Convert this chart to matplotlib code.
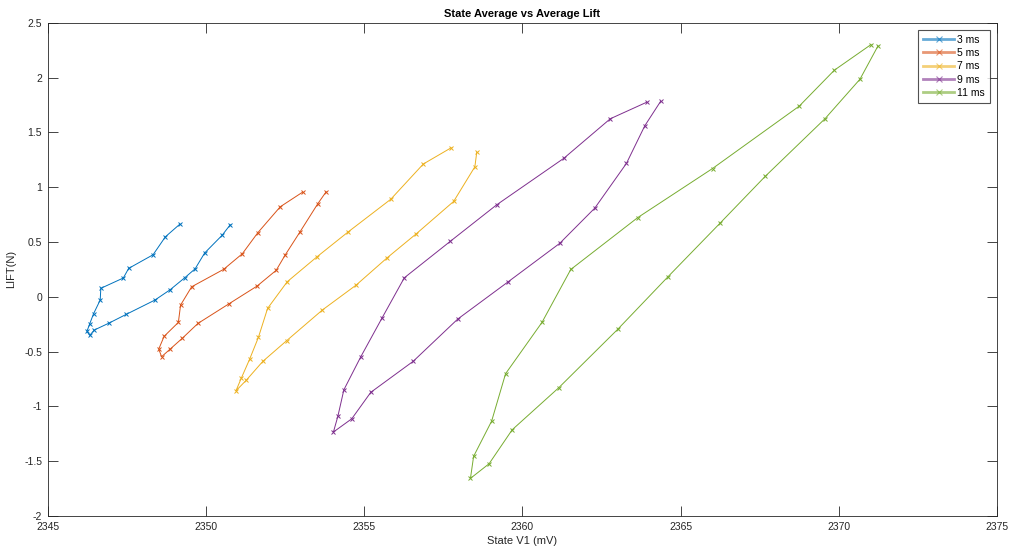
import matplotlib.pyplot as plt
from matplotlib.lines import Line2D

plt.rcParams['font.family'] = ['Liberation Sans', 'DejaVu Sans']

# state V1 (mV) and lift (N) for each pulse width
v_3ms = [2349.18, 2348.72, 2348.33, 2347.56, 2347.39, 2346.68, 2346.66, 2346.45, 2346.33, 2346.24,
         2346.33, 2346.47, 2346.94, 2347.48, 2348.39, 2348.87, 2349.33, 2349.66, 2349.96, 2350.51, 2350.77]
lift_3ms = [0.663, 0.547, 0.383, 0.259, 0.171, 0.077, -0.030, -0.155, -0.246, -0.316,
            -0.352, -0.304, -0.240, -0.161, -0.030, 0.064, 0.173, 0.255, 0.399, 0.560, 0.657]

v_5ms = [2353.06, 2352.35, 2351.64, 2351.15, 2350.56, 2349.55, 2349.20, 2349.13, 2348.68, 2348.51,
         2348.60, 2348.86, 2349.25, 2349.75, 2350.73, 2351.62, 2352.22, 2352.51, 2352.97, 2353.53, 2353.80]
lift_5ms = [0.955, 0.821, 0.584, 0.392, 0.250, 0.091, -0.076, -0.234, -0.361, -0.477,
            -0.547, -0.480, -0.380, -0.243, -0.064, 0.098, 0.241, 0.383, 0.590, 0.846, 0.958]

v_7ms = [2357.75, 2356.87, 2355.84, 2354.48, 2353.50, 2352.57, 2351.95, 2351.66, 2351.38, 2351.12,
         2350.95, 2351.28, 2351.80, 2352.55, 2353.68, 2354.75, 2355.73, 2356.65, 2357.83, 2358.50, 2358.56]
lift_7ms = [1.359, 1.211, 0.889, 0.588, 0.362, 0.137, -0.106, -0.370, -0.571, -0.742,
            -0.858, -0.760, -0.589, -0.401, -0.121, 0.107, 0.356, 0.575, 0.870, 1.186, 1.320]

v_9ms = [2363.94, 2362.78, 2361.31, 2359.19, 2357.72, 2356.27, 2355.56, 2354.89, 2354.36, 2354.17,
         2354.03, 2354.61, 2355.21, 2356.55, 2357.96, 2359.54, 2361.18, 2362.29, 2363.29, 2363.87, 2364.37]
lift_9ms = [1.776, 1.624, 1.263, 0.839, 0.505, 0.173, -0.197, -0.550, -0.849, -1.091,
            -1.234, -1.113, -0.872, -0.589, -0.203, 0.134, 0.487, 0.809, 1.217, 1.560, 1.783]

v_11ms = [2371.02, 2369.86, 2368.75, 2366.01, 2363.65, 2361.53, 2360.62, 2359.47, 2359.03, 2358.46,
          2358.36, 2358.95, 2359.68, 2361.15, 2363.01, 2364.60, 2366.26, 2367.68, 2369.57, 2370.67, 2371.24]
lift_11ms = [2.301, 2.067, 1.739, 1.170, 0.723, 0.249, -0.234, -0.702, -1.134, -1.456,
             -1.657, -1.523, -1.213, -0.830, -0.298, 0.182, 0.675, 1.100, 1.626, 1.985, 2.289]

labels = ['3 ms', '5 ms', '7 ms', '9 ms', '11 ms']
colores = ['#0072BD', '#D95319', '#EDB120', '#7E2F8E', '#77AC30']

series = [(v_3ms, lift_3ms), (v_5ms, lift_5ms), (v_7ms, lift_7ms),
          (v_9ms, lift_9ms), (v_11ms, lift_11ms)]

fig = plt.figure(figsize=(10.12, 5.54), dpi=100)
ax = fig.add_axes([0.0471, 0.0686, 0.9381, 0.8904])

for (x, y), c in zip(series, colores):
    ax.plot(x, y, color=c, lw=0.7, marker='x', markersize=3.5, markeredgewidth=0.7)

ax.set_xlim(2345, 2375)
ax.set_ylim(-2, 2.5)
ax.set_xticks(range(2345, 2376, 5))
ax.set_yticks([-2, -1.5, -1, -0.5, 0, 0.5, 1, 1.5, 2, 2.5])
ax.set_yticklabels(['-2', '-1.5', '-1', '-0.5', '0', '0.5', '1', '1.5', '2', '2.5'])

ax.tick_params(direction='in', top=True, right=True, length=7, width=0.6,
               labelsize=7.5, colors='#262626', pad=4)
for s in ax.spines.values():
    s.set_color('#262626')
    s.set_linewidth(0.6)

ax.set_title('State Average vs Average Lift', fontsize=8, fontweight='bold', pad=4)
ax.set_xlabel('State V1 (mV)', fontsize=8, color='#262626', labelpad=3)
ax.set_ylabel('LIFT(N)', fontsize=8, color='#262626', labelpad=6)

handles = [Line2D([], [], color=c, lw=2, alpha=0.6, marker='x', markersize=4,
                  markeredgecolor=c, markeredgewidth=0.8) for c in colores]
leg = ax.legend(handles, labels, loc='upper right', fontsize=7.5, frameon=True, fancybox=False,
                edgecolor='#262626', borderaxespad=0.7, handlelength=3.0, handletextpad=0.3,
                labelspacing=0.32, borderpad=0.45)
leg.get_frame().set_linewidth(0.8)

fig.savefig('out.png', dpi=100)
